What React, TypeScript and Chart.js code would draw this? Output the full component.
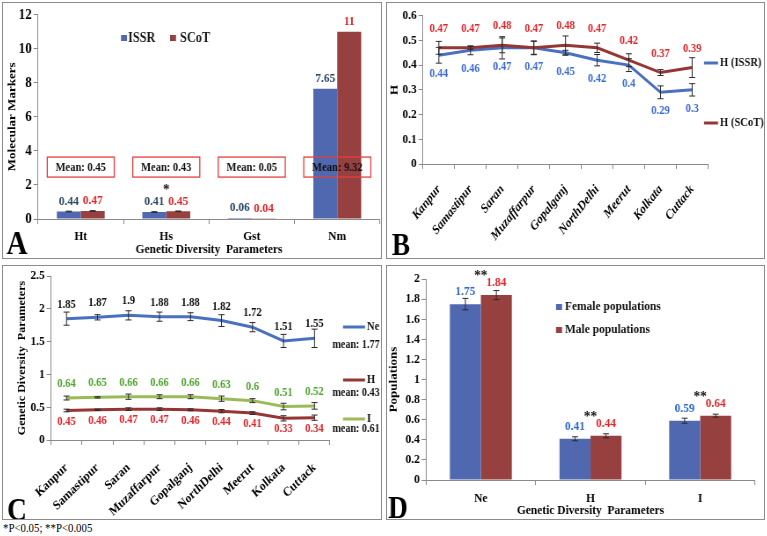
import React, { useEffect, useRef } from "react";
import { Chart, registerables } from "chart.js";

Chart.register(...registerables);

const COND = 0.88;
const SERIF = '"Liberation Serif", "Times New Roman", Times, serif';
const AXIS = "#8a8a8a";
const BAR_BLUE = "#5068B0";
const BAR_RED = "#96413F";
const LINE_BLUE = "#4A70C0";
const LINE_RED = "#963634";
const LINE_GREEN = "#9BBB59";
const LBL_RED = "#E0262A";

// ---------- Panel A ----------
const A_CATEGORIES = ["Ht", "Hs", "Gst", "Nm"];
const A_ISSR = [0.44, 0.41, 0.06, 7.65];
const A_SCOT = [0.47, 0.45, 0.04, 11];
const A_ISSR_ERR = [0.02, 0.02, 0, 0];
const A_SCOT_ERR = [0.02, 0.02, 0, 0];
const A_MEANS = ["Mean: 0.45", "Mean: 0.43", "Mean: 0.05", "Mean: 9.32"];
const A_STARS = ["", "*", "", ""];
const A_MEAN_LEVEL = 3.05;

// ---------- Panels B and C ----------
const SITES = ["Kanpur", "Samastipur", "Saran", "Muzaffarpur", "Gopalganj", "NorthDelhi", "Meerut", "Kolkata", "Cuttack"];
const B_ISSR = [0.44, 0.46, 0.47, 0.47, 0.45, 0.42, 0.4, 0.29, 0.3];
const B_SCOT = [0.47, 0.47, 0.48, 0.47, 0.48, 0.47, 0.42, 0.37, 0.39];
const B_ISSR_ERR = [0.032, 0.018, 0.045, 0.028, 0.01, 0.023, 0.026, 0.026, 0.025];
const B_SCOT_ERR = [0.026, 0.006, 0.03, 0.026, 0.038, 0.019, 0.026, 0.012, 0.04];

const C_NE = [1.85, 1.87, 1.9, 1.88, 1.88, 1.82, 1.72, 1.51, 1.55];
const C_H = [0.45, 0.46, 0.47, 0.47, 0.46, 0.44, 0.41, 0.33, 0.34];
const C_I = [0.64, 0.65, 0.66, 0.66, 0.66, 0.63, 0.6, 0.51, 0.52];
const C_NE_ERR = [0.1, 0.04, 0.07, 0.07, 0.06, 0.09, 0.07, 0.1, 0.14];
const C_H_ERR = [0.02, 0.01, 0.02, 0.02, 0.015, 0.025, 0.02, 0.04, 0.04];
const C_I_ERR = [0.03, 0.01, 0.04, 0.03, 0.03, 0.04, 0.03, 0.05, 0.05];
const C_SERIES = ["Ne", "H", "I"];
const C_MEANS = ["mean: 1.77", "mean: 0.43", "mean: 0.61"];

// ---------- Panel D ----------
const D_CATEGORIES = ["Ne", "H", "I"];
const D_FEMALE = [1.75, 0.41, 0.59];
const D_MALE = [1.84, 0.44, 0.64];
const D_FEMALE_ERR = [0.057, 0.02, 0.025];
const D_MALE_ERR = [0.045, 0.02, 0.015];
const D_STARS = ["**", "**", "**"];
const D_SERIES = ["Female populations", "Male populations"];

const bold = (px: number, italic = false) => `${italic ? "italic " : ""}bold ${px}px ${SERIF}`;

function drawText(ctx: any, s: string, x: number, y: number, font: string, color: string, align = "center", baseline = "middle") {
  ctx.font = font;
  ctx.fillStyle = color;
  ctx.textAlign = align;
  ctx.textBaseline = baseline;
  ctx.fillText(s, x, y);
}

function fontObj(size: number, italic = false) {
  return { family: SERIF, size, weight: "bold", style: italic ? "italic" : "normal", lineHeight: 1.2 };
}

const fmt = (v: any) => String(parseFloat(Number(v).toFixed(2)));

function xAxis(o: any) {
  return {
    type: "category",
    offset: true,
    grid: { display: true, offset: true, drawOnChartArea: false, drawTicks: true, tickLength: 5, color: AXIS, lineWidth: 1 },
    border: { display: true, color: AXIS, width: 1 },
    ticks: {
      color: "#000",
      font: fontObj(o.font, o.italic),
      padding: o.pad,
      autoSkip: false,
      minRotation: o.rot || 0,
      maxRotation: o.rot || 0,
    },
    title: o.title
      ? { display: true, text: o.title, color: "#000", font: fontObj(o.titleFont), padding: { top: 0, bottom: o.titleBottom } }
      : { display: false },
    afterFit: (s: any) => {
      s.height = o.height;
    },
  };
}

function yAxis(o: any) {
  return {
    type: "linear",
    min: o.min,
    max: o.max,
    grid: { display: true, drawOnChartArea: false, drawTicks: true, tickLength: 5, color: AXIS, lineWidth: 1 },
    border: { display: true, color: AXIS, width: 1 },
    ticks: { stepSize: o.step, color: "#000", font: fontObj(o.font), padding: 2, callback: fmt },
    title: { display: true, text: o.title, color: "#000", font: fontObj(o.titleFont), padding: { top: o.titleTop, bottom: 0 } },
    afterFit: (s: any) => {
      s.width = o.width;
    },
  };
}

function customPlugin(extra: any, sx: number) {
  return {
    id: "custom",
    afterDatasetsDraw(chart: any) {
      const ctx = chart.ctx;
      const ys = chart.scales.y;
      ctx.save();
      chart.data.datasets.forEach((ds: any, i: number) => {
        if (!ds.errors) return;
        const meta = chart.getDatasetMeta(i);
        ctx.strokeStyle = "#2a2a2a";
        ctx.lineWidth = 1;
        meta.data.forEach((el: any, j: number) => {
          const e = ds.errors[j];
          if (!e) return;
          const v = ds.data[j];
          const x = el.x;
          const y1 = ys.getPixelForValue(v + e);
          const y2 = ys.getPixelForValue(v - e);
          const cw = 3 * sx;
          ctx.beginPath();
          ctx.moveTo(x, y1);
          ctx.lineTo(x, y2);
          ctx.moveTo(x - cw, y1);
          ctx.lineTo(x + cw, y1);
          ctx.moveTo(x - cw, y2);
          ctx.lineTo(x + cw, y2);
          ctx.stroke();
        });
      });
      chart.data.datasets.forEach((ds: any, i: number) => {
        if (!ds.labelColor) return;
        const meta = chart.getDatasetMeta(i);
        meta.data.forEach((el: any, j: number) => {
          drawText(ctx, String(ds.data[j]), el.x, el.y + ds.labelOffset, ds.labelFont, ds.labelColor);
        });
      });
      extra(chart, ctx, sx);
      ctx.restore();
    },
  };
}

function baseOptions(sx: number, pad: any, scales: any) {
  return {
    responsive: false,
    animation: false,
    devicePixelRatio: 1,
    layout: { padding: pad },
    plugins: { legend: { display: false }, tooltip: { enabled: false }, title: { display: false } },
    scales,
  };
}

// ---------------- Panel A ----------------
function makeA(sx: number) {
  const extra = (chart: any, ctx: any, s: number) => {
    const xs = chart.scales.x;
    const ys = chart.scales.y;
    ctx.fillStyle = BAR_BLUE;
    ctx.fillRect(118 * s, 32, 6 * s, 6);
    drawText(ctx, "ISSR", 125 * s, 35, bold(14), "#1a1a1a", "left");
    ctx.fillStyle = BAR_RED;
    ctx.fillRect(167 * s, 32, 6 * s, 6);
    drawText(ctx, "SCoT", 177 * s, 35, bold(14), "#1a1a1a", "left");
    A_MEANS.forEach((m, i) => {
      const cx = xs.getPixelForValue(i);
      const cy = ys.getPixelForValue(A_MEAN_LEVEL);
      const w = 67 * s;
      const h = 20;
      ctx.strokeStyle = "#E4403F";
      ctx.lineWidth = 1.3;
      ctx.strokeRect(cx - w / 2, cy - h / 2, w, h);
      drawText(ctx, m, cx, cy + 0.5, bold(12), "#111");
    });
    A_STARS.forEach((st, i) => {
      if (!st) return;
      const top = ys.getPixelForValue(Math.max(A_ISSR[i], A_SCOT[i]));
      drawText(ctx, st, xs.getPixelForValue(i), top - 21, bold(15), "#111");
    });
    drawText(ctx, "A", 14 * s, 242, bold(33), "#000");
  };
  return {
    type: "bar",
    data: {
      labels: A_CATEGORIES,
      datasets: [
        { label: "ISSR", data: A_ISSR, backgroundColor: BAR_BLUE, errors: A_ISSR_ERR, labelColor: "#2B4764", labelOffset: -10, labelFont: bold(13), categoryPercentage: 0.56, barPercentage: 1 },
        { label: "SCoT", data: A_SCOT, backgroundColor: BAR_RED, errors: A_SCOT_ERR, labelColor: LBL_RED, labelOffset: -10, labelFont: bold(13), categoryPercentage: 0.56, barPercentage: 1 },
      ],
    },
    options: baseOptions(sx, { left: 0, right: 1 * sx, top: 11.7, bottom: 0 }, {
      x: xAxis({ height: 39, pad: 5.2, font: 13, title: "Genetic Diversity  Parameters", titleFont: 13, titleBottom: 0.2 }),
      y: yAxis({ width: 35 * sx, min: 0, max: 12, step: 2, font: 15, title: "Molecular Markers", titleFont: 13, titleTop: 9 * sx - 7.8 }),
    }),
    plugins: [customPlugin(extra, sx)],
  };
}

// ---------------- Panel B ----------------
function makeB(sx: number) {
  const extra = (chart: any, ctx: any, s: number) => {
    const items = [
      { t: "H (ISSR)", c: LINE_BLUE, y: 60 },
      { t: "H (SCoT)", c: LINE_RED, y: 120 },
    ];
    items.forEach((it) => {
      ctx.strokeStyle = it.c;
      ctx.lineWidth = 3;
      ctx.beginPath();
      ctx.moveTo(317 * s, it.y);
      ctx.lineTo(331 * s, it.y);
      ctx.stroke();
      drawText(ctx, it.t, 333 * s, it.y, bold(12), "#111", "left");
    });
    drawText(ctx, "B", 14 * s, 244, bold(31), "#000");
  };
  return {
    type: "line",
    data: {
      labels: SITES,
      datasets: [
        { label: "H (ISSR)", data: B_ISSR, borderColor: LINE_BLUE, borderWidth: 3, pointRadius: 0, fill: false, order: 1, errors: B_ISSR_ERR, labelColor: "#3C6BD2", labelOffset: 19, labelFont: bold(12) },
        { label: "H (SCoT)", data: B_SCOT, borderColor: LINE_RED, borderWidth: 3, pointRadius: 0, fill: false, order: 0, errors: B_SCOT_ERR, labelColor: LBL_RED, labelOffset: -19, labelFont: bold(12) },
      ],
    },
    options: baseOptions(sx, { left: 0, right: 56 * sx, top: 12.7, bottom: 0 }, {
      x: xAxis({ height: 94, pad: 13, font: 13, italic: true, rot: 48 }),
      y: yAxis({ width: 36 * sx, min: 0, max: 0.6, step: 0.1, font: 13, title: "H", titleFont: 13, titleTop: 8 * sx - 7.8 }),
    }),
    plugins: [customPlugin(extra, sx)],
  };
}

// ---------------- Panel C ----------------
function makeC(sx: number) {
  const extra = (chart: any, ctx: any, s: number) => {
    const colors = [LINE_BLUE, LINE_RED, LINE_GREEN];
    const lineY = [61, 114, 153];
    const meanY = [79, 127, 163];
    C_SERIES.forEach((name, i) => {
      ctx.strokeStyle = colors[i];
      ctx.lineWidth = 3;
      ctx.beginPath();
      ctx.moveTo(340 * s, lineY[i]);
      ctx.lineTo(362 * s, lineY[i]);
      ctx.stroke();
      drawText(ctx, name, 364 * s, lineY[i], bold(12), "#111", "left");
      drawText(ctx, C_MEANS[i], 353 * s, meanY[i], bold(11.5), "#111");
    });
    drawText(ctx, "C", 14 * s, 246, bold(31), "#000");
  };
  return {
    type: "line",
    data: {
      labels: SITES,
      datasets: [
        { label: "Ne", data: C_NE, borderColor: LINE_BLUE, borderWidth: 3, pointRadius: 0, fill: false, errors: C_NE_ERR, labelColor: "#111", labelOffset: -14, labelFont: bold(12) },
        { label: "H", data: C_H, borderColor: LINE_RED, borderWidth: 3, pointRadius: 0, fill: false, errors: C_H_ERR, labelColor: LBL_RED, labelOffset: 11, labelFont: bold(12) },
        { label: "I", data: C_I, borderColor: LINE_GREEN, borderWidth: 3, pointRadius: 0, fill: false, errors: C_I_ERR, labelColor: "#4FA62E", labelOffset: -14, labelFont: bold(12) },
      ],
    },
    options: baseOptions(sx, { left: 0, right: 51 * sx, top: 10, bottom: 0 }, {
      x: xAxis({ height: 79, pad: 15, font: 13, rot: 41 }),
      y: yAxis({ width: 48 * sx, min: 0, max: 2.5, step: 0.5, font: 13, title: "Genetic Diversity  Parameters", titleFont: 12, titleTop: 19 * sx - 7.2 }),
    }),
    plugins: [customPlugin(extra, sx)],
  };
}

// ---------------- Panel D ----------------
function makeD(sx: number) {
  const extra = (chart: any, ctx: any, s: number) => {
    const xs = chart.scales.x;
    const ys = chart.scales.y;
    const cols = [BAR_BLUE, BAR_RED];
    const ly = [41, 64];
    D_SERIES.forEach((name, i) => {
      ctx.fillStyle = cols[i];
      ctx.fillRect(169 * s, ly[i] - 3, 6 * s, 6);
      drawText(ctx, name, 178 * s, ly[i], bold(13), "#111", "left");
    });
    D_STARS.forEach((st, i) => {
      const top = ys.getPixelForValue(Math.max(D_FEMALE[i], D_MALE[i]));
      drawText(ctx, st, xs.getPixelForValue(i), top - 19, bold(15), "#111");
    });
    drawText(ctx, "D", 11 * s, 244, bold(31), "#000");
  };
  return {
    type: "bar",
    data: {
      labels: D_CATEGORIES,
      datasets: [
        { label: D_SERIES[0], data: D_FEMALE, backgroundColor: BAR_BLUE, errors: D_FEMALE_ERR, labelColor: "#2E67D0", labelOffset: -12, labelFont: bold(13), categoryPercentage: 0.565, barPercentage: 1 },
        { label: D_SERIES[1], data: D_MALE, backgroundColor: BAR_RED, errors: D_MALE_ERR, labelColor: LBL_RED, labelOffset: -12, labelFont: bold(13), categoryPercentage: 0.565, barPercentage: 1 },
      ],
    },
    options: baseOptions(sx, { left: 0, right: 9 * sx, top: 13, bottom: 0 }, {
      x: xAxis({ height: 39, pad: 6.2, font: 13, title: "Genetic Diversity  Parameters", titleFont: 13, titleBottom: 0.2 }),
      y: yAxis({ width: 39 * sx, min: 0, max: 2, step: 0.2, font: 13, title: "Populations", titleFont: 13, titleTop: Math.max(0, 7 * sx - 7.8) }),
    }),
    plugins: [customPlugin(extra, sx)],
  };
}

function Panel({ left, top, width, height, make }: any) {
  const ref = useRef<HTMLCanvasElement>(null);
  const innerW = width - 2;
  const innerH = height - 2;
  const attrW = Math.round(innerW / COND);
  useEffect(() => {
    const sx = attrW / innerW;
    const chart = new Chart(ref.current as any, make(sx) as any);
    return () => chart.destroy();
  }, []);
  return (
    <div style={{ position: "absolute", left, top, width, height, border: "1px solid #8c8c8c", boxSizing: "border-box", background: "#fff" }}>
      <canvas ref={ref} width={attrW} height={innerH} style={{ position: "absolute", left: 0, top: 0, width: innerW, height: innerH, display: "block" }} />
    </div>
  );
}

export default function App() {
  return (
    <div style={{ position: "absolute", left: 0, top: 0, width: 767, height: 536, background: "#fff", overflow: "hidden" }}>
      <Panel left={2} top={2} width={380} height={257} make={makeA} />
      <Panel left={386} top={2} width={379} height={257} make={makeB} />
      <Panel left={2} top={265} width={380} height={255} make={makeC} />
      <Panel left={386} top={265} width={379} height={255} make={makeD} />
      <div style={{ position: "absolute", left: 3, top: 521, fontFamily: SERIF, fontSize: 12, whiteSpace: "nowrap", transform: "scaleX(0.9)", transformOrigin: "left top", color: "#000", lineHeight: "14px" }}>
        {"*P<0.05; **P<0.005"}
      </div>
    </div>
  );
}
